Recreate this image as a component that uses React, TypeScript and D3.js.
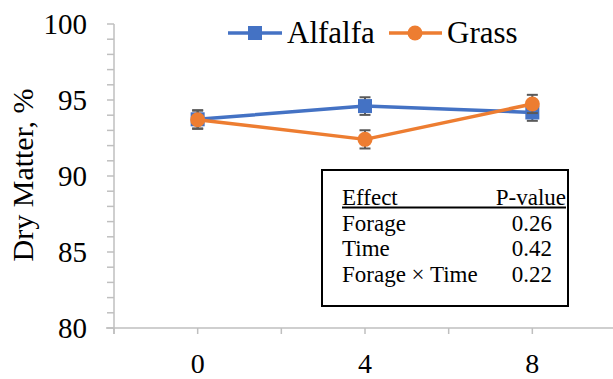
import React from "react";
import * as d3 from "d3";

// Sampling days and dry matter means (%) with standard errors
const days = [0, 4, 8];
const alfalfa = [93.73, 94.6, 94.18];
const alfalfaSE = [0.6, 0.58, 0.55];
const grass = [93.7, 92.41, 94.74];
const grassSE = [0.6, 0.6, 0.6];
const yTicks = [80, 85, 90, 95, 100];
const xTickLabels = [0, 4, 8];
const effects = ["Forage", "Time", "Forage × Time"];
const pValues = ["0.26", "0.42", "0.22"];

const W = 613;
const H = 379;
const FONT = "'Liberation Serif'";
const BLUE = "#4472C4";
const ORANGE = "#ED7D31";
const AXIS = "#BFBFBF";
const ERR = "#595959";

const txt = (size: number): React.CSSProperties => ({ fontFamily: FONT, fontSize: size });

export default function App() {
  const x = d3.scaleLinear().domain([-2, 10]).range([114, 616]);
  const y = d3.scaleLinear().domain([80, 100]).range([328, 24]);
  const minor = d3.range(80, 100.01, 1);
  const xMarks = d3.range(-2, 10, 2);
  const line = d3
    .line<number>()
    .x((_, i) => x(days[i]))
    .y((v) => y(v));

  const series = [
    { name: "Alfalfa", values: alfalfa, se: alfalfaSE, color: BLUE, shape: "square" },
    { name: "Grass", values: grass, se: grassSE, color: ORANGE, shape: "circle" },
  ];

  const marker = (shape: string, cx: number, cy: number, color: string, key: string) =>
    shape === "square" ? (
      <rect key={key} x={cx - 7} y={cy - 7} width={14} height={14} fill={color} />
    ) : (
      <circle key={key} cx={cx} cy={cy} r={7.5} fill={color} />
    );

  const tableX = 322;
  const tableY = 170;

  return (
    <svg width={W} height={H} style={{ position: "absolute", left: 0, top: 0, background: "#fff" }}>
      {/* axes */}
      <line x1={114} x2={114} y1={y(100)} y2={334} stroke={AXIS} strokeWidth={1.5} />
      <line x1={106} x2={W} y1={y(80)} y2={y(80)} stroke={AXIS} strokeWidth={1.5} />
      {minor.map((v) => (
        <line key={`ym${v}`} x1={107} x2={114} y1={y(v)} y2={y(v)} stroke={AXIS} strokeWidth={1.5} />
      ))}
      {xMarks.map((v) => (
        <line key={`xm${v}`} x1={x(v)} x2={x(v)} y1={y(80)} y2={334} stroke={AXIS} strokeWidth={1.5} />
      ))}
      {yTicks.map((v) => (
        <text key={`yt${v}`} x={87} y={y(v) + 10} textAnchor="end" style={txt(29)} fill="#000">
          {v}
        </text>
      ))}
      {xTickLabels.map((v) => (
        <text key={`xt${v}`} x={x(v)} y={373} textAnchor="middle" style={txt(28)} fill="#000">
          {v}
        </text>
      ))}
      <text transform="translate(33,175) rotate(-90)" textAnchor="middle" style={txt(30)} fill="#000">
        Dry Matter, %
      </text>

      {/* series */}
      {series.map((s) => (
        <g key={s.name}>
          {s.values.map((v, i) => {
            const cx = x(days[i]);
            const t = y(v + s.se[i]);
            const b = y(v - s.se[i]);
            return (
              <g key={`e${i}`} stroke={ERR} strokeWidth={2}>
                <line x1={cx} x2={cx} y1={t} y2={b} />
                <line x1={cx - 5.5} x2={cx + 5.5} y1={t} y2={t} />
                <line x1={cx - 5.5} x2={cx + 5.5} y1={b} y2={b} />
              </g>
            );
          })}
          <path d={line(s.values) ?? ""} fill="none" stroke={s.color} strokeWidth={3.5} strokeLinejoin="round" />
          {s.values.map((v, i) => marker(s.shape, x(days[i]), y(v), s.color, `m${i}`))}
        </g>
      ))}

      {/* legend */}
      <g>
        <line x1={228} x2={282} y1={33} y2={33} stroke={BLUE} strokeWidth={3.5} />
        {marker("square", 255, 33, BLUE, "lg1")}
        <text x={287} y={43} style={txt(31)} fill="#000">Alfalfa</text>
        <line x1={389} x2={442} y1={33} y2={33} stroke={ORANGE} strokeWidth={3.5} />
        {marker("circle", 415, 33, ORANGE, "lg2")}
        <text x={447} y={43} style={txt(31)} fill="#000">Grass</text>
      </g>

      {/* statistics table */}
      <g>
        <rect x={tableX} y={tableY} width={246} height={136} fill="#fff" stroke="#000" strokeWidth={2} />
        <text x={342} y={205} style={txt(23)} fill="#000">Effect</text>
        <text x={566} y={205} style={txt(23)} textAnchor="end" fill="#000">P-value</text>
        <line x1={342} x2={566} y1={207.5} y2={207.5} stroke="#000" strokeWidth={2} />
        {effects.map((e, i) => (
          <g key={e}>
            <text x={342} y={231 + i * 25.4} style={txt(23)} fill="#000">{e}</text>
            <text x={552} y={231 + i * 25.4} style={txt(23)} textAnchor="end" fill="#000">
              {pValues[i]}
            </text>
          </g>
        ))}
      </g>
    </svg>
  );
}
